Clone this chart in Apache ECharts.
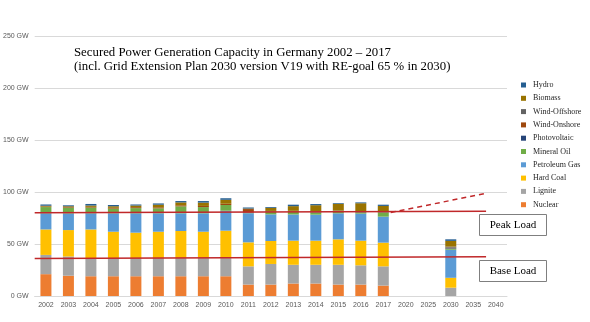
<!DOCTYPE html>
<html><head><meta charset="utf-8">
<script src="https://cdn.jsdelivr.net/npm/echarts@6/dist/echarts.min.js"></script>
<style>html,body{margin:0;padding:0;background:#fff}#c{width:590px;height:322px}</style>
</head><body><div id="c"></div>
<script>
const categories = ['2002','2003','2004','2005','2006','2007','2008','2009','2010','2011','2012','2013','2014','2015','2016','2017','2020','2025','2030','2035','2040'];
const yTicks = [0,50,100,150,200,250];
const nuclear  = [21,19.5,19,19,19,19,19,19,19,11,11,12,12,11,11,10,null,null,0,null,null];
const lignite  = [18.5,18.5,17.5,17.5,17.5,17.5,17.5,17.5,17.5,17.5,19.8,18,18,19,18.5,18.5,null,null,8,null,null];
const hardCoal = [24.5,25.4,27.5,25.3,24.4,25.3,26,25.3,26.3,23.1,22.1,23.2,23.2,24.5,23.7,22.8,null,null,9.5,null,null];
const petroleumGas = [15.5,16,15.5,17.7,18.6,17.7,17,17.7,19.2,28,25.6,25.2,25,25,26,25,null,null,27,null,null];
const mineralOil = [6,5.5,5.5,4.5,5,4.8,6.7,6,5.5,0.4,2.5,2.5,2,1.5,1.3,4,null,null,1,null,null];
const photovoltaic = [0,0,0,0,0,0,0,0,0,0.3,0.3,0.3,0.3,0.3,0.3,0.3,null,null,0.5,null,null];
const windOnshore = [0.5,0.6,0.7,0.8,0.9,1,1,1.1,1.2,3.3,0.5,0.5,0.5,0.5,0.5,0.5,null,null,0.5,null,null];
const windOffshore = [0,0,0,0,0,0,0,0,0,0,0,0.2,0.3,0.3,0.4,0.5,null,null,1,null,null];
const biomass = [0.8,0.8,1.3,1.5,1.6,2.5,2.8,3.2,3.8,0.5,3,4.5,6,6.5,7.5,5,null,null,5.5,null,null];
const hydro = [1.2,0.9,1.5,1.2,1,1.2,1.3,1.5,1.5,1,0.8,1.4,1.1,0.7,0.8,1.2,null,null,1.5,null,null];
// load lines in category-position units (x) and GW (y)
const peakLoadLine = [[0,80],[20.07,81.5]];
const baseLoadLine = [[0,36],[20.07,37.8]];
const peakTrendLine = [[15.83,80.3],[20.07,98.7]];

const seriesDefs = [
  ['Nuclear', nuclear, '#ED7D31'],
  ['Lignite', lignite, '#A5A5A5'],
  ['Hard Coal', hardCoal, '#FFC000'],
  ['Petroleum Gas', petroleumGas, '#5B9BD5'],
  ['Mineral Oil', mineralOil, '#70AD47'],
  ['Photovoltaic', photovoltaic, '#264478'],
  ['Wind-Onshore', windOnshore, '#9E480E'],
  ['Wind-Offshore', windOffshore, '#636363'],
  ['Biomass', biomass, '#997300'],
  ['Hydro', hydro, '#255E91']
];
const serif = '"Liberation Serif", "DejaVu Serif", serif';
const series = seriesDefs.map(([n,d,c]) => ({
  name: n, type: 'bar', stack: 'cap', data: d, barWidth: 11,
  itemStyle: {color: c}, xAxisIndex: 0, yAxisIndex: 0, animation: false
}));
const red = '#C0282A';
series.push({type:'line', data: peakLoadLine, xAxisIndex:1, yAxisIndex:0, symbol:'none', lineStyle:{color:red,width:1.5}, animation:false, silent:true});
series.push({type:'line', data: baseLoadLine, xAxisIndex:1, yAxisIndex:0, symbol:'none', lineStyle:{color:red,width:1.5}, animation:false, silent:true});
series.push({type:'line', data: peakTrendLine, xAxisIndex:1, yAxisIndex:0, symbol:'none', lineStyle:{color:red,width:1.5,type:[5,4]}, animation:false, silent:true});

const chart = echarts.init(document.getElementById('c'), null, {renderer:'canvas'});
chart.setOption({
  backgroundColor: '#fff',
  animation: false,
  title: {
    text: 'Secured Power Generation Capacity in Germany 2002 – 2017\n(incl. Grid Extension Plan 2030 version V19 with RE-goal 65 % in 2030)',
    left: 74, top: 46, padding: 0,
    textStyle: {fontFamily: serif, fontSize: 12.8, fontWeight: 'normal', color: '#000', lineHeight: 13.5}
  },
  grid: {left: 32, right: 83, top: 36, bottom: 26},
  legend: {
    orient: 'vertical', left: 516, top: 76, itemWidth: 5, itemHeight: 5, itemGap: 5.3,
    data: seriesDefs.map(s => s[0]).reverse(),
    textStyle: {fontFamily: serif, fontSize: 8, color: '#262626', lineHeight: 8, padding: [0,0,0,2]},
    icon: 'rect'
  },
  xAxis: [{
    type: 'category', data: categories,
    axisLine: {show: true, lineStyle: {color: '#D9D9D9'}}, axisTick: {show: false},
    axisLabel: {fontSize: 7, color: '#595959', margin: 6, interval: 0}
  }, {
    type: 'value', min: 0, max: 21, show: false
  }],
  yAxis: [{
    type: 'value', min: yTicks[0], max: yTicks[yTicks.length-1], interval: 50,
    axisLine: {show: false}, axisTick: {show: false},
    axisLabel: {fontSize: 7, color: '#595959', margin: 6, formatter: v => v + ' GW'},
    splitLine: {lineStyle: {color: '#D9D9D9'}}
  }],
  series: series,
  graphic: [
    {type:'group', left: 479, top: 214, children: [
      {type:'rect', shape:{x:0,y:0,width:67,height:21}, style:{fill:'#fff', stroke:'#7F7F7F', lineWidth:1}},
      {type:'text', x:33.5, y:10.5, style:{text:'Peak Load', font:'11px ' + serif, fill:'#000', align:'center', verticalAlign:'middle'}}
    ]},
    {type:'group', left: 479, top: 260, children: [
      {type:'rect', shape:{x:0,y:0,width:67,height:21}, style:{fill:'#fff', stroke:'#7F7F7F', lineWidth:1}},
      {type:'text', x:33.5, y:10.5, style:{text:'Base Load', font:'11px ' + serif, fill:'#000', align:'center', verticalAlign:'middle'}}
    ]}
  ]
});
</script></body></html>
